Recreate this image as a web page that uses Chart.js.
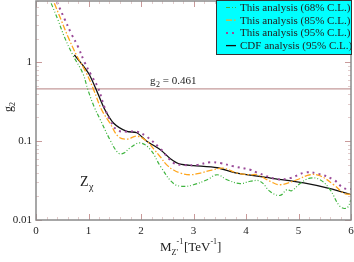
<!DOCTYPE html>
<html>
<head>
<meta charset="utf-8">
<script src="https://cdn.jsdelivr.net/npm/chart.js@4.4.0/dist/chart.umd.min.js"></script>
<style>
  html, body { margin: 0; padding: 0; background: #fff; }
  #wrap { width: 354px; height: 262px; }
</style>
</head>
<body>
<div id="wrap"><canvas id="c" width="354" height="262"></canvas></div>
<script>
// ── Data ────────────────────────────────────
const x68 = [0.29, 0.42, 0.54, 0.70, 0.89, 0.99, 1.11, 1.22, 1.41, 1.57, 1.67, 1.79, 1.98, 2.18, 2.37, 2.62, 2.81, 3.00, 3.26, 3.45, 3.64, 3.89, 4.08, 4.27, 4.46, 4.65, 4.78, 4.87, 5.03, 5.22, 5.41, 5.60, 5.79, 5.92, 6.00];
const y68 = [5.6, 3.43, 2.11, 1.24, 0.73, 0.446, 0.27, 0.19, 0.104, 0.0705, 0.0705, 0.082, 0.095, 0.078, 0.048, 0.029, 0.0267, 0.028, 0.0324, 0.0375, 0.0324, 0.029, 0.031, 0.031, 0.023, 0.0205, 0.0243, 0.0235, 0.029, 0.034, 0.0324, 0.0243, 0.0149, 0.0142, 0.018];

const x85 = [0.35, 0.48, 0.61, 0.77, 0.96, 1.10, 1.25, 1.41, 1.57, 1.73, 1.92, 2.11, 2.24, 2.37, 2.49, 2.62, 2.75, 2.94, 3.13, 3.35, 3.57, 3.83, 4.08, 4.21, 4.46, 4.65, 4.97, 5.22, 5.41, 5.67, 5.86, 6.00];
const y85 = [5.6, 3.43, 2.11, 1.24, 0.73, 0.447, 0.25, 0.169, 0.114, 0.106, 0.116, 0.100, 0.08, 0.063, 0.05, 0.043, 0.0394, 0.0375, 0.0394, 0.043, 0.0454, 0.0394, 0.0375, 0.0375, 0.031, 0.028, 0.0324, 0.0375, 0.0364, 0.028, 0.022, 0.021];

const x95 = [0.40, 0.54, 0.67, 0.80, 0.92, 1.05, 1.18, 1.30, 1.41, 1.54, 1.73, 1.92, 2.11, 2.37, 2.62, 2.81, 3.06, 3.32, 3.51, 3.76, 4.08, 4.21, 4.59, 4.84, 5.13, 5.38, 5.67, 5.86, 6.00];
const y95 = [5.8, 3.6, 2.33, 1.58, 1.02, 0.69, 0.48, 0.274, 0.186, 0.139, 0.132, 0.132, 0.114, 0.08, 0.053, 0.050, 0.050, 0.054, 0.0527, 0.048, 0.0434, 0.040, 0.033, 0.034, 0.040, 0.0385, 0.0324, 0.0254, 0.0247];

const xCdf = [0.73, 0.89, 1.02, 1.15, 1.30, 1.48, 1.73, 1.92, 2.11, 2.37, 2.56, 2.75, 3.00, 3.45, 3.83, 4.50, 5.10, 5.60, 6.00];
const yCdf = [1.24, 0.92, 0.69, 0.446, 0.26, 0.169, 0.133, 0.128, 0.100, 0.078, 0.060, 0.051, 0.049, 0.046, 0.0394, 0.0338, 0.0295, 0.025, 0.021];

const legendLabels = ['This analysis (68% C.L.)', 'This analysis (85% C.L.)', 'This analysis (95% C.L.)', 'CDF analysis (95% C.L.)'];
const xTicks = [0, 1, 2, 3, 4, 5, 6];
const yTicks = [0.01, 0.1, 1];
const g2Ref = 0.461;

const SERIF = '"Liberation Serif", "DejaVu Serif", serif';
const TICK_COL = '#c99a9a';
const TEXT_COL = '#222';

const pts = (xs, ys) => xs.map((x, i) => ({ x: x, y: ys[i] }));

// ── Extra drawing: ticks, frame, reference line, labels, legend ──
const decor = {
    id: 'decor',
    beforeDatasetsDraw(chart) {
        const { ctx, chartArea: a, scales: { y } } = chart;
        ctx.save();
        // g2 reference line
        const gy = y.getPixelForValue(g2Ref);
        ctx.strokeStyle = '#c49a9a';
        ctx.lineWidth = 1.2;
        ctx.beginPath(); ctx.moveTo(a.left, gy); ctx.lineTo(a.right, gy); ctx.stroke();
        ctx.restore();
    },
    afterDatasetsDraw(chart) {
        const { ctx, chartArea: a, scales: { x, y } } = chart;
        ctx.save();
        ctx.lineWidth = 1;
        // x ticks (inside, bottom and top)
        for (let v = 0; v <= 6.001; v += 0.2) {
            const px = Math.round(x.getPixelForValue(v)) + 0.5;
            const major = Math.abs(v - Math.round(v)) < 0.01;
            const len = major ? 6 : 3;
            ctx.strokeStyle = major ? TICK_COL : '#e2cccc';
            ctx.beginPath();
            ctx.moveTo(px, a.bottom); ctx.lineTo(px, a.bottom - len);
            ctx.moveTo(px, a.top); ctx.lineTo(px, a.top + len);
            ctx.stroke();
        }
        // y ticks (log, inside, left and right)
        for (let d = 0.01; d < 10; d *= 10) {
            for (let m = 1; m <= 9; m++) {
                const v = d * m;
                if (v < y.min || v > y.max) continue;
                const py = Math.round(y.getPixelForValue(v)) + 0.5;
                const major = m === 1;
                const len = major ? 6 : 3;
                ctx.strokeStyle = major ? TICK_COL : '#e2cccc';
                ctx.beginPath();
                ctx.moveTo(a.left, py); ctx.lineTo(a.left + len, py);
                ctx.moveTo(a.right, py); ctx.lineTo(a.right - len, py);
                ctx.stroke();
            }
        }
        // frame
        ctx.strokeStyle = '#8a8a8a';
        ctx.lineWidth = 1.5;
        ctx.strokeRect(a.left, a.top, a.right - a.left, a.bottom - a.top);

        ctx.fillStyle = TEXT_COL;
        ctx.textBaseline = 'alphabetic';
        // g2 = 0.461 label
        ctx.font = '11px ' + SERIF;
        ctx.textAlign = 'left';
        ctx.fillText('g', 150, 84);
        ctx.font = '8px ' + SERIF;
        ctx.fillText('2', 156, 87);
        ctx.font = '11px ' + SERIF;
        ctx.fillText(' = 0.461', 160, 84);

        // Z_chi
        ctx.font = '14px ' + SERIF;
        ctx.fillText('Z', 80, 186);
        ctx.font = '10px ' + SERIF;
        ctx.fillText('χ', 89, 190);

        // y axis title g_2 (rotated)
        ctx.save();
        ctx.translate(12, 106);
        ctx.rotate(-Math.PI / 2);
        ctx.font = '12px ' + SERIF;
        ctx.fillText('g', -6, 0);
        ctx.font = '8px ' + SERIF;
        ctx.fillText('2', 0, 3);
        ctx.restore();

        // x axis title M_{Z'}^{-1}[TeV^{-1}]
        ctx.font = '13px ' + SERIF;
        let cx = 160;
        const by = 251;
        ctx.fillText('M', cx, by); cx += ctx.measureText('M').width;
        ctx.font = '8px ' + SERIF;
        ctx.fillText("Z'", cx, by + 4);
        ctx.fillText('-1', cx + 5, by - 7); cx += ctx.measureText("Z'").width + 6;
        ctx.font = '13px ' + SERIF;
        ctx.fillText('[TeV', cx, by); cx += ctx.measureText('[TeV').width;
        ctx.font = '8px ' + SERIF;
        ctx.fillText('-1', cx, by - 7); cx += ctx.measureText('-1').width;
        ctx.font = '13px ' + SERIF;
        ctx.fillText(']', cx, by);

        // legend box
        const lx = 216.5, ly = 0.5, lw = 135, lh = 54;
        ctx.fillStyle = '#00ffff';
        ctx.fillRect(lx, ly, lw, lh);
        ctx.strokeStyle = '#333';
        ctx.lineWidth = 1;
        ctx.strokeRect(lx, ly, lw, lh);
        chart.data.datasets.forEach((ds, i) => {
            const rowY = 7.5 + i * 12.7;
            ctx.strokeStyle = ds.borderColor;
            ctx.lineWidth = ds.borderWidth;
            ctx.setLineDash(ds.borderDash || []);
            ctx.beginPath(); ctx.moveTo(226, rowY); ctx.lineTo(236, rowY); ctx.stroke();
            ctx.setLineDash([]);
            ctx.fillStyle = TEXT_COL;
            ctx.font = '11px ' + SERIF;
            ctx.textBaseline = 'middle';
            ctx.fillText(legendLabels[i], 240, rowY + 0.5);
        });
        ctx.restore();
    }
};

new Chart(document.getElementById('c'), {
    type: 'line',
    data: {
        datasets: [
            { data: pts(x68, y68), borderColor: '#3fb43f', borderWidth: 1.2, borderDash: [4, 2, 1, 2, 1, 2], tension: 0.4 },
            { data: pts(x85, y85), borderColor: '#ffa61e', borderWidth: 1.3, borderDash: [6, 2, 1.5, 2], tension: 0.4 },
            { data: pts(x95, y95), borderColor: '#9a4a98', borderWidth: 2, borderDash: [2, 4], tension: 0.4 },
            { data: pts(xCdf, yCdf), borderColor: '#111', borderWidth: 1.3, tension: 0.25 }
        ]
    },
    options: {
        responsive: false,
        animation: false,
        parsing: false,
        clip: true,
        elements: { point: { radius: 0 } },
        layout: { padding: { left: 0, right: 3, top: 1, bottom: 0 } },
        plugins: { legend: { display: false }, tooltip: { enabled: false } },
        scales: {
            x: {
                type: 'linear', min: 0, max: 6,
                afterBuildTicks: s => { s.ticks = xTicks.map(v => ({ value: v })); },
                afterFit: s => { s.height = 42; s.paddingLeft = 0; s.paddingRight = 0; },
                grid: { display: false, drawTicks: false },
                border: { display: false },
                ticks: { color: TEXT_COL, font: { family: SERIF, size: 11 }, padding: 5, maxRotation: 0 }
            },
            y: {
                type: 'logarithmic', min: 0.01, max: 6,
                afterBuildTicks: s => { s.ticks = yTicks.map(v => ({ value: v })); },
                afterFit: s => { s.width = 36; s.paddingTop = 0; s.paddingBottom = 0; },
                grid: { display: false, drawTicks: false },
                border: { display: false },
                ticks: { color: TEXT_COL, font: { family: SERIF, size: 11 }, padding: 4, callback: v => String(v) }
            }
        }
    },
    plugins: [decor]
});
</script>
</body>
</html>
